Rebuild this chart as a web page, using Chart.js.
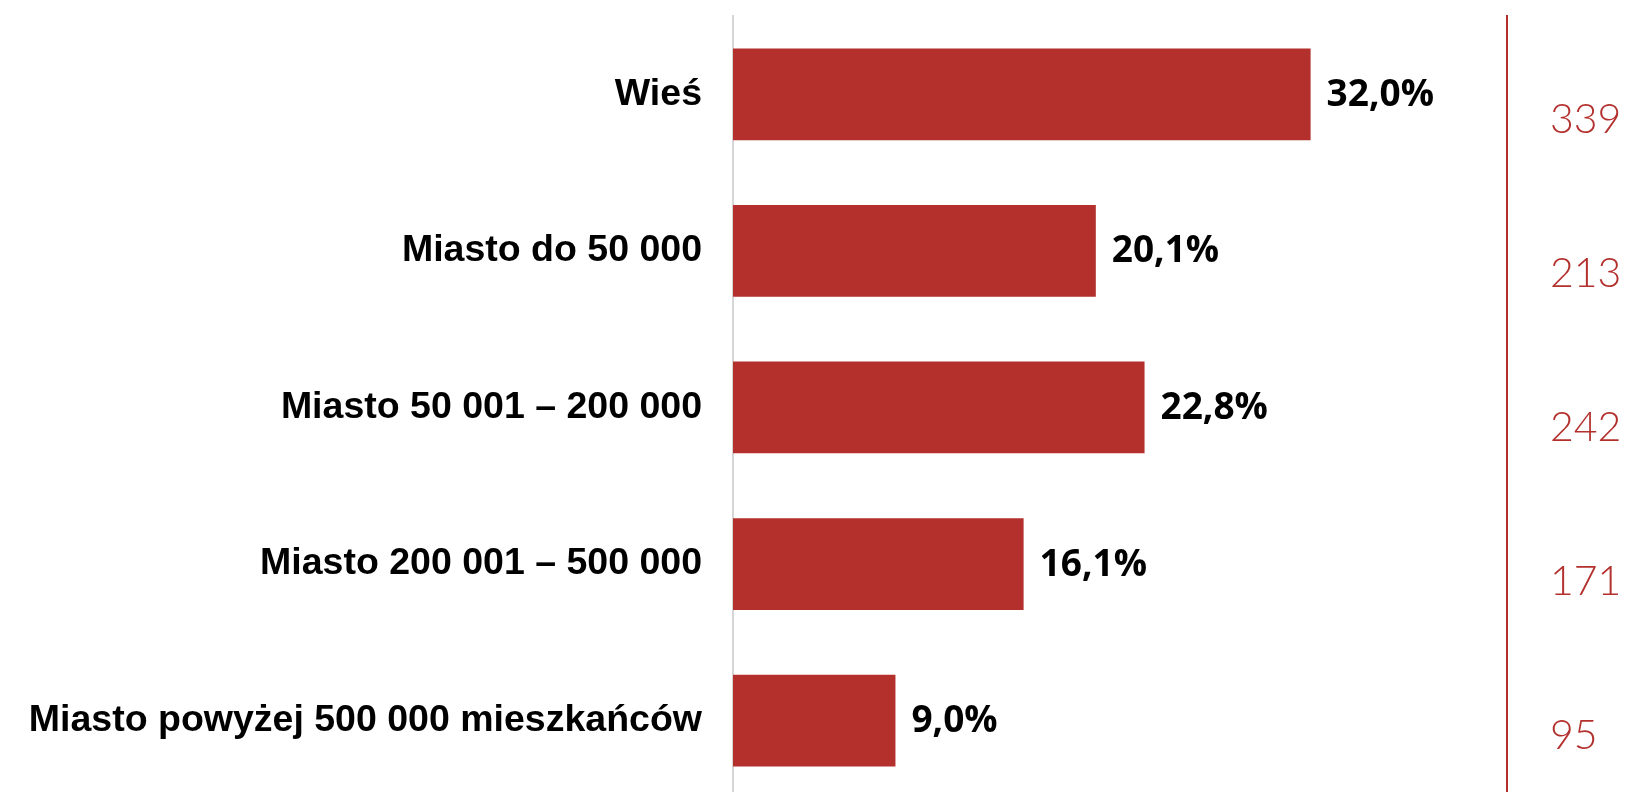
<!DOCTYPE html>
<html>
<head>
<meta charset="utf-8">
<script src="https://cdn.jsdelivr.net/npm/chart.js@4"></script>
<style>
  html, body { margin: 0; padding: 0; overflow: hidden; background: #fff; }
  #wrap { width: 1626px; height: 792px; overflow: hidden; }
</style>
</head>
<body>
<div id="wrap"><canvas id="chart" width="1626" height="801"></canvas></div>
<script>
const categories = [
    'Wieś',
    'Miasto do 50 000',
    'Miasto 50 001 – 200 000',
    'Miasto 200 001 – 500 000',
    'Miasto powyżej 500 000 mieszkańców'
];
const shares = [32.0, 20.1, 22.8, 16.1, 9.0];   // %
const counts = [339, 213, 242, 171, 95];        // liczebność

const red = '#b3302d';

// wartości procentowe przy słupkach
const valueLabels = {
    id: 'valueLabels',
    afterDatasetsDraw(chart) {
        const ctx = chart.ctx;
        const meta = chart.getDatasetMeta(0);
        ctx.save();
        ctx.fillStyle = '#000';
        ctx.textBaseline = 'middle';
        ctx.textAlign = 'left';
        ctx.font = 'bold 37px "Open Sans", "Noto Sans", sans-serif';
        meta.data.forEach((bar, i) => {
            const txt = shares[i].toFixed(1).replace('.', ',') + '%';
            ctx.fillText(txt, bar.x + 16, bar.y + 1);
        });
        ctx.restore();
    }
};

new Chart(document.getElementById('chart'), {
    type: 'bar',
    data: {
        labels: categories,
        datasets: [{
            data: shares,
            backgroundColor: red,
            borderWidth: 0,
            barPercentage: 0.586,
            categoryPercentage: 1
        }]
    },
    options: {
        indexAxis: 'y',
        responsive: false,
        animation: false,
        layout: { padding: { top: 16 } },
        plugins: {
            legend: { display: false },
            tooltip: { enabled: false }
        },
        scales: {
            x: {
                display: false,
                min: 0,
                max: 42.88
            },
            y: {
                grid: { display: true, drawOnChartArea: false, color: 'transparent', tickLength: 31 },
                border: { color: '#d6d6d6', width: 2 },
                ticks: {
                    padding: 0,
                    color: '#000',
                    font: { family: '"Liberation Sans", Arial, sans-serif', size: 37.5, weight: 'bold', lineHeight: 0.1 }
                },
                afterFit: s => { s.width = 733; }
            },
            // liczebności po prawej — własna oś, rozstaw nieco inny niż słupków
            y2: {
                type: 'linear',
                position: 'right',
                reverse: true,
                offset: false,
                bounds: 'data',
                min: -0.673,
                max: 4.408,
                grid: { display: true, offset: false, drawOnChartArea: false, color: 'transparent', tickLength: 43 },
                border: { color: red, width: 2 },
                afterBuildTicks: s => { s.ticks = counts.map((c, i) => ({ value: i })); },
                ticks: {
                    autoSkip: false,
                    padding: 0,
                    color: red,
                    font: { family: 'Lato, "Open Sans", sans-serif', size: 41, weight: '300', lineHeight: 0.1 },
                    callback: v => counts[v]
                },
                afterFit: s => { s.width = 119; }
            }
        }
    },
    plugins: [valueLabels]
});
</script>
</body>
</html>
